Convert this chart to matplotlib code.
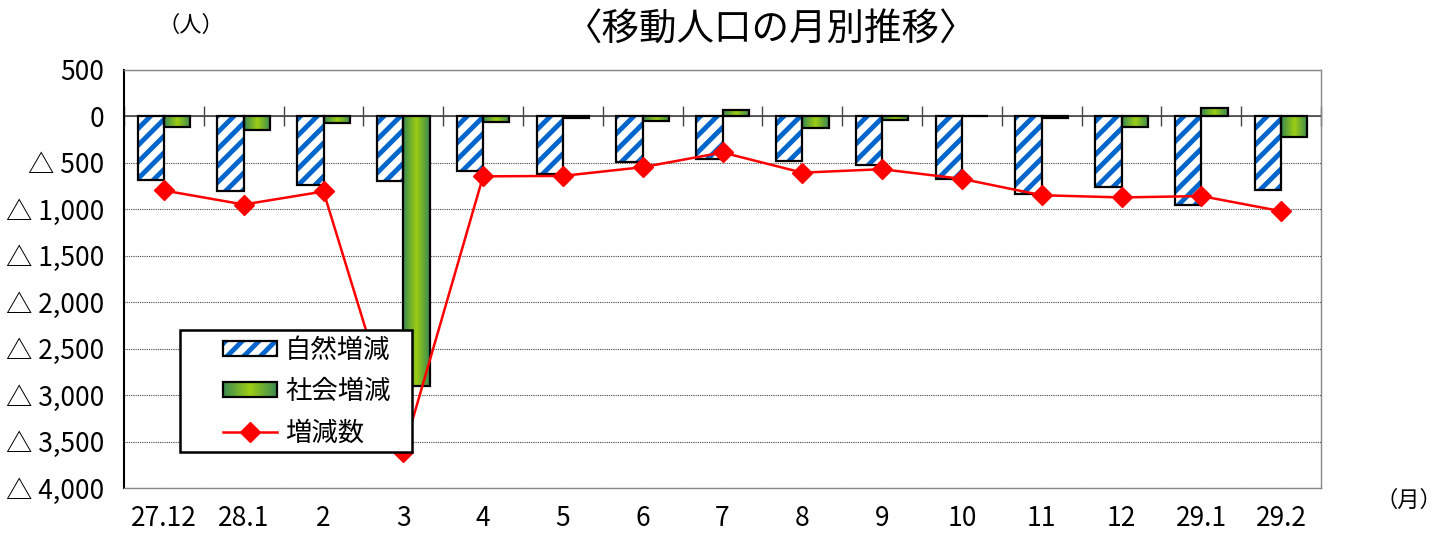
import matplotlib
matplotlib.use('Agg')
import matplotlib.pyplot as plt
import numpy as np
from matplotlib.colors import LinearSegmentedColormap
from matplotlib.patches import Patch, Rectangle
from matplotlib.legend_handler import HandlerBase, HandlerTuple

plt.rcParams['font.family'] = ['Noto Sans CJK JP', 'DejaVu Sans']
plt.rcParams['hatch.linewidth'] = 3.5

# 月ごとのデータ（人）
months = ['27.12', '28.1', '2', '3', '4', '5', '6', '7', '8', '9', '10', '11', '12', '29.1', '29.2']
natural = [-679, -805, -733, -697, -582, -625, -492, -456, -481, -521, -672, -833, -761, -948, -797]
social = [-115, -151, -72, -2899, -61, -15, -54, 65, -122, -43, 3, -15, -115, 93, -223]
total = [-797, -948, -808, -3610, -645, -640, -546, -388, -605, -568, -672, -848, -872, -857, -1020]

yticks = list(range(500, -4001, -500))


def ylabel_fmt(v):
    if v > 0:
        return f'{v:,}'
    if v == 0:
        return '0'
    return f'△ {-v:,}'


green = LinearSegmentedColormap.from_list('grn', ['#3a8a50', '#9ccd14', '#3a8a50'])

fig = plt.figure(figsize=(14.45, 5.34), dpi=100)
ax = fig.add_axes([124 / 1445, 46 / 534, 1197 / 1445, 418 / 534])

x = np.arange(len(months))
w = 0.33

# 自然増減: 青の斜線
ax.bar(x - w / 2, natural, w, color='white', edgecolor='#0066cc', hatch='//', lw=0, zorder=3)
ax.bar(x - w / 2, natural, w, fill=False, edgecolor='black', lw=1.6, zorder=4)

# 社会増減: 緑のグラデーション
sbars = ax.bar(x + w / 2, social, w, color='none', edgecolor='black', lw=1.6, zorder=4)
grad = np.linspace(0, 1, 64).reshape(1, -1)
for b in sbars:
    x0, y0 = b.get_x(), b.get_y()
    im = ax.imshow(grad, cmap=green, aspect='auto', zorder=3,
                   extent=(x0, x0 + b.get_width(), y0, y0 + b.get_height()))
    im.set_clip_path(b)

ax.plot(x, total, color='#ff0000', lw=1.8, marker='D', markersize=10, zorder=5)

ax.set_xlim(-0.5, len(months) - 0.5)
ax.set_ylim(-4000, 500)
ax.set_yticks(yticks, [ylabel_fmt(v) for v in yticks])
ax.set_xticks(x, months)
ax.tick_params(axis='y', length=0, labelsize=19, pad=14)
ax.tick_params(axis='x', length=0, labelsize=19, pad=12)
ax.grid(axis='y', color='#444444', linestyle=(0, (1, 1)), lw=0.8, zorder=0)
ax.set_axisbelow(True)

for s in ['top', 'right', 'bottom']:
    ax.spines[s].set_color('#888888')
    ax.spines[s].set_linewidth(1)
ax.spines['left'].set_color('black')
ax.spines['left'].set_linewidth(1.5)

# 0 の位置の項目軸
sec = ax.secondary_xaxis(0, transform=ax.transData)
sec.set_xticks(np.arange(-0.5, len(months), 1))
sec.tick_params(direction='inout', length=14, width=1, color='#444444', labelbottom=False)
sec.spines['bottom'].set_color('#444444')
sec.spines['bottom'].set_linewidth(1.2)


class GradHandler(HandlerBase):
    def create_artists(self, legend, orig_handle, xdescent, ydescent, width, height, fontsize, trans):
        arts = []
        k = 30
        for i in range(k):
            arts.append(Rectangle((-xdescent + width * i / k, -ydescent), width / k, height,
                                  facecolor=green((i + 0.5) / k), edgecolor='none', transform=trans))
        arts.append(Rectangle((-xdescent, -ydescent), width, height, fill=False,
                              edgecolor='black', lw=1.6, transform=trans))
        return arts


h_nat = (Patch(facecolor='white', edgecolor='#0066cc', hatch='//', lw=0),
         Patch(fill=False, edgecolor='black', lw=1.6))
h_soc = Patch(facecolor='#7ab830')
h_tot = plt.Line2D([], [], color='#ff0000', lw=1.8, marker='D', markersize=10)

# 凡例の枠
ax.add_patch(Rectangle((0.0468, 0.0861), 0.1938, 0.2919, transform=ax.transAxes,
                       facecolor='white', edgecolor='black', lw=1.8, zorder=9))
leg = ax.legend([h_nat, h_soc, h_tot], ['自然増減', '社会増減', '増減数'],
                handler_map={tuple: HandlerTuple(ndivide=1, pad=0), h_soc: GradHandler()},
                loc='upper left', bbox_to_anchor=(0.0827, 0.362), fontsize=19,
                frameon=False, handlelength=2.05, handleheight=0.5, labelspacing=0.55,
                borderpad=0, handletextpad=0.3, borderaxespad=0)
leg.set_zorder(10)

fig.text(771 / 1445, 1 - 30 / 534, '〈移動人口の月別推移〉', ha='center', va='center', fontsize=27)
fig.text(191 / 1445, 1 - 25 / 534, '（人）', ha='center', va='center', fontsize=16)
fig.text(1409 / 1445, 1 - 500 / 534, '（月）', ha='center', va='center', fontsize=16)

fig.savefig('out.png', dpi=100)
